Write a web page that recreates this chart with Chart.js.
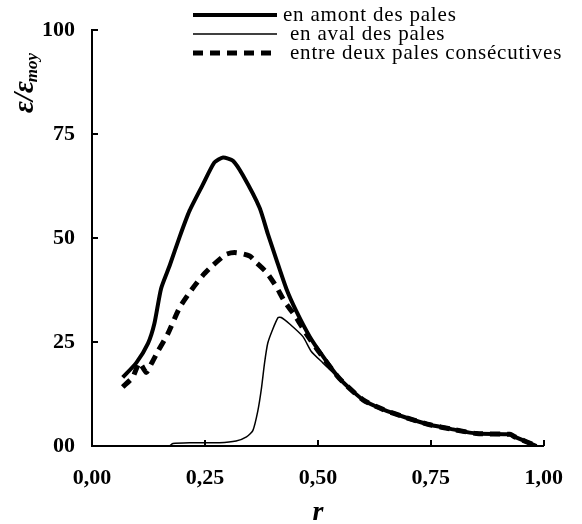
<!DOCTYPE html>
<html>
<head>
<meta charset="utf-8">
<script src="https://cdn.jsdelivr.net/npm/chart.js@4.4.1/dist/chart.umd.min.js"></script>
<style>
  body { margin: 0; background: #fff; }
</style>
</head>
<body>
<canvas id="chart" width="582" height="524"></canvas>
<script>
// r positions and eps/eps_moy values
const rAmont = [0.068, 0.098, 0.124, 0.138, 0.153, 0.172, 0.194, 0.216, 0.245, 0.271, 0.29, 0.312, 0.334, 0.371, 0.389, 0.408, 0.43, 0.452, 0.482, 0.511, 0.548, 0.6, 0.644, 0.696, 0.748, 0.799, 0.851, 0.925, 0.936, 0.984];
const epsAmont = [16.5, 20, 24.7, 29.4, 37.9, 43.4, 50.3, 56.6, 62.8, 68.2, 69.4, 68.6, 65.1, 57.3, 51.1, 44.9, 37.9, 32.5, 26.3, 21.6, 16.2, 11.1, 8.8, 6.8, 5.1, 4.0, 3.0, 2.8, 2.2, 0];

const rAval = [0.172, 0.179, 0.216, 0.282, 0.319, 0.342, 0.356, 0.367, 0.375, 0.382, 0.389, 0.399, 0.412, 0.419, 0.437, 0.467, 0.485, 0.511, 0.548, 0.6, 0.644, 0.696, 0.748, 0.799, 0.851, 0.925, 0.936, 0.984];
const epsAval = [0, 0.6, 0.8, 0.8, 1.2, 2.2, 3.7, 8.4, 13.8, 20, 24.7, 27.8, 30.9, 30.9, 29.4, 26.3, 22.8, 20, 16.2, 11.1, 8.8, 6.8, 5.1, 4.0, 3.0, 2.8, 2.2, 0];

const rEntre = [0.068, 0.09, 0.105, 0.12, 0.13, 0.146, 0.168, 0.194, 0.22, 0.245, 0.268, 0.297, 0.319, 0.349, 0.364, 0.386, 0.408, 0.426, 0.452, 0.474, 0.504, 0.548, 0.6, 0.644, 0.696, 0.748, 0.799, 0.851, 0.925, 0.936, 0.984];
const epsEntre = [14.2, 16.5, 20, 17.7, 19.5, 22.8, 27, 33.3, 37.5, 41, 43.5, 46.1, 46.5, 45.7, 44.1, 41.8, 38.3, 34.8, 30.9, 27, 22.4, 16.2, 11.1, 8.8, 6.8, 5.1, 4.0, 3.0, 2.8, 2.2, 0];

const seriesNames = ['en amont des pales', 'en aval des pales', 'entre deux pales consécutives'];
const xTicks = [0, 0.25, 0.5, 0.75, 1];
const yTicks = [0, 25, 50, 75, 100];

const pts = (xs, ys) => xs.map((x, i) => ({ x: x, y: ys[i] }));

const serif = '"Liberation Serif", "Times New Roman", serif';

// ticks drawn inward, like the original
const insideTicks = {
  id: 'insideTicks',
  afterDraw(chart) {
    const { ctx, chartArea, scales } = chart;
    ctx.save();
    ctx.strokeStyle = '#000';
    ctx.lineWidth = 2;
    ctx.beginPath();
    scales.x.ticks.forEach(t => {
      const px = Math.round(scales.x.getPixelForValue(t.value));
      ctx.moveTo(px, chartArea.bottom);
      ctx.lineTo(px, chartArea.bottom - 6);
    });
    scales.y.ticks.forEach(t => {
      const py = Math.round(scales.y.getPixelForValue(t.value));
      ctx.moveTo(chartArea.left, py);
      ctx.lineTo(chartArea.left + 6, py);
    });
    ctx.stroke();
    ctx.restore();
  }
};

// y title with subscript, and the legend block at top right
const annotations = {
  id: 'annotations',
  afterDraw(chart) {
    const ctx = chart.ctx;
    ctx.save();
    ctx.fillStyle = '#000';
    ctx.translate(33, 113);
    ctx.rotate(-Math.PI / 2);
    ctx.textBaseline = 'alphabetic';
    ctx.font = 'bold italic 29px ' + serif;
    ctx.fillText('ε/ε', 0, 0);
    const w = ctx.measureText('ε/ε').width;
    ctx.font = 'bold italic 17px ' + serif;
    ctx.fillText('moy', w - 1, 4);
    ctx.restore();

    const ds = chart.data.datasets;
    const rows = [15, 34, 53];
    const textX = [283, 290, 290];
    ctx.save();
    ctx.strokeStyle = '#000';
    ctx.fillStyle = '#000';
    ctx.font = '21px ' + serif;
    ctx.letterSpacing = '0.8px';
    ctx.textBaseline = 'alphabetic';
    ds.forEach((d, i) => {
      ctx.lineWidth = d.borderWidth;
      ctx.setLineDash(d.borderDash || []);
      ctx.beginPath();
      ctx.moveTo(193, rows[i]);
      ctx.lineTo(277, rows[i]);
      ctx.stroke();
      ctx.fillText(d.label, textX[i], rows[i] + 6);
    });
    ctx.restore();
  }
};

new Chart(document.getElementById('chart'), {
  type: 'line',
  data: {
    datasets: [
      {
        label: seriesNames[0],
        data: pts(rAmont, epsAmont),
        borderColor: '#000',
        borderWidth: 4,
        tension: 0.2
      },
      {
        label: seriesNames[1],
        data: pts(rAval, epsAval),
        borderColor: '#000',
        borderWidth: 1.5,
        tension: 0.2
      },
      {
        label: seriesNames[2],
        data: pts(rEntre, epsEntre),
        borderColor: '#000',
        borderWidth: 5,
        borderDash: [10, 7],
        tension: 0.2
      }
    ]
  },
  options: {
    responsive: false,
    animation: false,
    layout: { padding: { top: 17, right: 38, left: 0, bottom: 0 } },
    elements: { point: { radius: 0 } },
    plugins: {
      legend: { display: false },
      tooltip: { enabled: false }
    },
    scales: {
      x: {
        type: 'linear',
        min: 0,
        max: 1,
        afterBuildTicks: s => { s.ticks = xTicks.map(v => ({ value: v })); },
        afterFit: s => { s.height = 78; },
        grid: { display: false, drawTicks: false },
        border: { display: true, color: '#000', width: 2 },
        ticks: {
          padding: 19,
          color: '#000',
          maxRotation: 0,
          font: { family: serif, size: 22, weight: 'bold' },
          callback: v => v.toFixed(2).replace('.', ',')
        },
        title: {
          display: true,
          text: 'r',
          color: '#000',
          padding: { top: 0, bottom: 0 },
          font: { family: serif, size: 28, weight: 'bold', style: 'italic', lineHeight: 0.8 }
        }
      },
      y: {
        min: 0,
        max: 100,
        afterBuildTicks: s => { s.ticks = yTicks.map(v => ({ value: v })); },
        afterFit: s => { s.width = 92; },
        grid: { display: false, drawTicks: false },
        border: { display: true, color: '#000', width: 2 },
        ticks: {
          padding: 17,
          color: '#000',
          font: { family: serif, size: 22, weight: 'bold' },
          callback: v => (v === 0 ? '00' : String(v))
        }
      }
    }
  },
  plugins: [insideTicks, annotations]
});
</script>
</body>
</html>
